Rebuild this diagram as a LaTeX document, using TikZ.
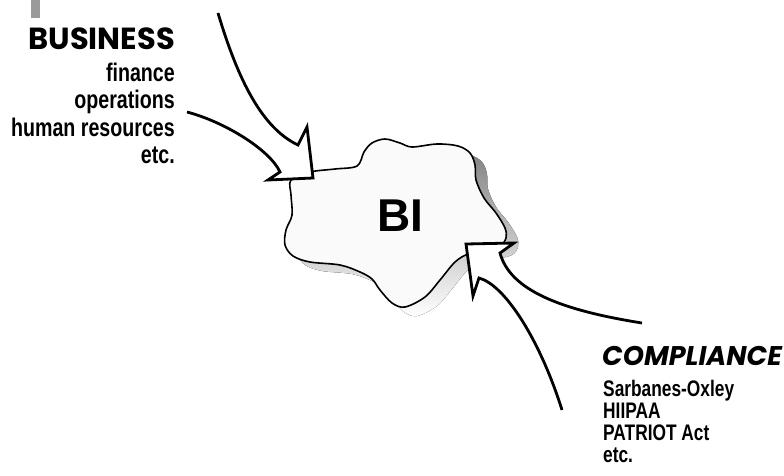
\documentclass[tikz,border=0pt]{standalone}
\usepackage{fontspec}
\setmainfont{Liberation Sans}
\newfontfamily\itemfont[FakeStretch=0.77]{Liberation Sans}
\newfontfamily\headfont{Poppins}
\definecolor{shade}{HTML}{B3B3B3}
\definecolor{cloudfill}{HTML}{FAFAFA}
\definecolor{barcol}{HTML}{9A9A9A}
\tikzset{
  blockarrow/.style={draw=black, fill=white, line width=2.8pt, line join=miter, miter limit=10},
  cloudline/.style={draw=black, fill=cloudfill, line width=1.6pt},
  headtext/.style={inner sep=0pt, font=\headfont\bfseries\fontsize{30.5}{34}\selectfont},
  bigitem/.style={inner sep=0pt, anchor=base east, font=\itemfont\bfseries\fontsize{25.5}{30}\selectfont},
  smallitem/.style={inner sep=0pt, anchor=base west, font=\itemfont\bfseries\fontsize{22.5}{25}\selectfont},
}
\begin{document}
\begin{tikzpicture}[x=1pt, y=-1pt]
\useasboundingbox (0,0) rectangle (784,476);

% small grey tab in the corner
\fill[barcol] (31,0) rectangle (40,18);

% the BI blob: shadow first, then outline
\def\blob{plot[smooth cycle, tension=0.55] coordinates {
  (291,180) (310,172) (335,169) (357,166) (364,152) (372,143) (385,139)
  (400,143) (412,147) (437,144) (458,146) (470,153) (475,165) (476,180)
  (484,198) (496,213) (505,228) (506,238) (500,246) (485,250) (468,254)
  (455,262) (440,280) (425,297) (405,307) (392,303) (380,290) (372,279)
  (360,272) (340,265) (310,262) (293,256) (285,245) (286,230) (292,215)
  (291,195)}}
\fill[shade, shift={(12,9)}] \blob;
\path[cloudline] \blob;
\node[inner sep=0pt, font=\bfseries\fontsize{46}{50}\selectfont] (bi) at (400,216) {BI};

% arrow from the business side
\coordinate (ua0) at (218,13);
\coordinate (un1) at (298,145);
\coordinate (ub1) at (307,127);
\coordinate (utip) at (313,178);
\coordinate (ub2) at (268,180);
\coordinate (un2) at (280,172);
\coordinate (ua1) at (187,112);
\path[blockarrow] (ua0) .. controls (238,80) and (262,128) .. (un1)
  -- (ub1) -- (utip) -- (ub2) -- (un2)
  .. controls (270,150) and (225,122) .. (ua1);

% arrow from the compliance side
\coordinate (la0) at (642,323);
\coordinate (ln1) at (500,253);
\coordinate (lb1) at (514,243);
\coordinate (ltip) at (466,244);
\coordinate (lb2) at (473,296);
\coordinate (ln2) at (479,278);
\coordinate (la1) at (562,410);
\path[blockarrow] (la0) .. controls (560,310) and (510,290) .. (ln1)
  -- (lb1) -- (ltip) -- (lb2) -- (ln2)
  .. controls (505,285) and (540,340) .. (la1);

% business side labels
\node[headtext, anchor=base east] (business) at (175,50) {BUSINESS};
\node[bigitem] (fin) at (175,82) {finance};
\node[bigitem] (ops) at (175,109) {operations};
\node[bigitem] (hr)  at (175,136) {human resources};
\node[bigitem] (etcb) at (175,163) {etc.};

% compliance side labels
\node[headtext, anchor=base west, font=\headfont\bfseries\itshape\fontsize{27}{32}\selectfont] (compliance) at (602,365) {COMPLIANCE};
\node[smallitem] (sox) at (603,396) {Sarbanes-Oxley};
\node[smallitem] (hipaa) at (603,418.5) {HIIPAA};
\node[smallitem] (patriot) at (603,440.5) {PATRIOT Act};
\node[smallitem] (etcc) at (603,462) {etc.};
\end{tikzpicture}
\end{document}
